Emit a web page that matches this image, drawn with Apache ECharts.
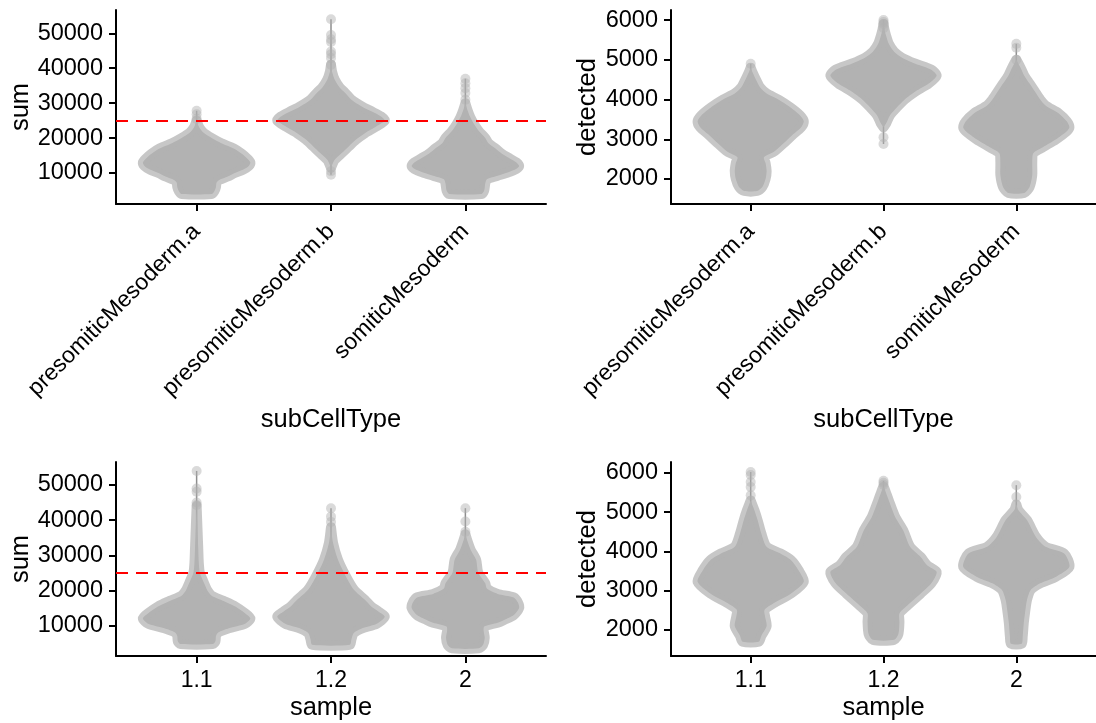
<!DOCTYPE html>
<html><head><meta charset="utf-8">
<script src="https://cdn.jsdelivr.net/npm/echarts@6/dist/echarts.min.js"></script>
<style>html,body{margin:0;padding:0;background:#fff}#c{width:1096px;height:723px}</style>
</head><body><div id="c"></div>
<script>
// ---------- categories & ticks ----------
const subCellTypes = ['presomiticMesoderm.a', 'presomiticMesoderm.b', 'somiticMesoderm'];
const samples = ['1.1', '1.2', '2'];
const sumTicks = [10000, 20000, 30000, 40000, 50000];
const detectedTicks = [2000, 3000, 4000, 5000, 6000];
const sumThreshold = 25000;

// ---------- violin profiles: [value, relative density] ----------
// sum by subCellType
const sumSub_a = [[4000,0.28],[4800,0.33],[6000,0.36],[7200,0.37],[8000,0.42],[9000,0.58],[10000,0.71],[11000,0.87],[12000,0.97],[13000,1.0],[14000,0.95],[15500,0.84],[17000,0.69],[18500,0.46],[20000,0.28],[21500,0.13],[23000,0.05],[25000,0.0]];
const sumSub_b = [[11500,0.0],[13000,0.04],[13800,0.07],[15700,0.2],[17600,0.33],[19500,0.46],[21400,0.63],[23300,0.84],[25000,1.0],[26200,0.93],[27600,0.76],[29000,0.58],[31000,0.38],[33000,0.26],[34500,0.16],[36700,0.07],[39000,0.02],[41000,0.0]];
const sumSub_c = [[4000,0.3],[5000,0.35],[7000,0.37],[8200,0.4],[9200,0.6],[10200,0.8],[11200,0.95],[12000,1.0],[13000,0.95],[14200,0.82],[15500,0.68],[17000,0.56],[18500,0.43],[20000,0.37],[22000,0.25],[24000,0.16],[26000,0.09],[28000,0.04],[30000,0.0]];
const sumSubPts_a = [25500, 26800, 27800];
const sumSubPts_b = [9500, 10500, 41000, 42900, 44000, 44800, 47500, 48300, 49500, 54000];
const sumSubPts_c = [31000, 32900, 34300, 35700, 37000];

// detected by subCellType
const detSub_a = [[1700,0.12],[1800,0.22],[2000,0.28],[2200,0.3],[2400,0.28],[2550,0.25],[2700,0.45],[2900,0.62],[3100,0.78],[3300,0.95],[3450,1.0],[3600,0.93],[3800,0.75],[4000,0.52],[4150,0.3],[4300,0.18],[4500,0.1],[4700,0.03],[4800,0.0]];
const detSub_b = [[3300,0.0],[3400,0.05],[3600,0.12],[3800,0.25],[4000,0.4],[4200,0.6],[4400,0.85],[4600,1.0],[4750,0.9],[4900,0.6],[5050,0.35],[5200,0.2],[5400,0.1],[5600,0.05],[5750,0.02],[5900,0.0]];
const detSub_c = [[1650,0.15],[1800,0.25],[2100,0.3],[2400,0.3],[2650,0.32],[2800,0.5],[3000,0.75],[3200,0.95],[3300,1.0],[3450,0.95],[3650,0.8],[3850,0.55],[4000,0.45],[4200,0.35],[4400,0.25],[4600,0.15],[4800,0.08],[5000,0.0]];
const detSubPts_a = [4900];
const detSubPts_b = [2880, 3050, 5800, 5900, 5950, 6000];
const detSubPts_c = [5000, 5300, 5400];

// sum by sample
const sumSam_11 = [[4700,0.3],[5500,0.35],[7000,0.36],[8000,0.4],[9200,0.6],[10500,0.9],[12000,1.0],[13500,0.9],[15400,0.72],[17000,0.5],[18500,0.28],[20000,0.2],[22000,0.14],[25000,0.06],[28000,0.04],[32000,0.03],[36000,0.02],[40000,0.01],[44000,0.0]];
const sumSam_12 = [[4500,0.35],[6000,0.38],[7800,0.42],[9200,0.58],[10500,0.85],[12500,1.0],[14000,0.88],[15400,0.75],[17300,0.63],[20100,0.43],[23900,0.28],[28700,0.13],[33400,0.04],[38000,0.0]];
const sumSam_2 = [[3500,0.25],[4500,0.33],[6500,0.36],[8500,0.34],[9700,0.35],[10800,0.6],[11600,0.72],[13000,0.9],[15000,1.0],[16500,0.98],[18000,0.9],[19000,0.6],[20500,0.4],[22000,0.37],[25000,0.24],[28700,0.2],[31500,0.1],[34000,0.04],[36000,0.0]];
const sumSamPts_11 = [44300, 45000, 48100, 49000, 54000];
const sumSamPts_12 = [39500, 41000, 43400];
const sumSamPts_2 = [36700, 39600, 43400];

// detected by sample
const detSam_11 = [[1700,0.15],[1850,0.2],[2100,0.3],[2350,0.27],[2510,0.26],[2680,0.43],[2930,0.76],[3230,1.0],[3525,0.9],[3780,0.76],[3950,0.56],[4120,0.3],[4460,0.2],[4800,0.13],[5050,0.07],[5300,0.0]];
const detSam_12 = [[1750,0.2],[1900,0.28],[2200,0.3],[2420,0.3],[2590,0.42],[2930,0.7],[3190,0.9],[3480,1.0],[3650,0.82],[3860,0.7],[4120,0.5],[4540,0.37],[4880,0.22],[5300,0.1],[5600,0.02],[5650,0.0]];
const detSam_2 = [[1650,0.1],[1830,0.12],[2170,0.14],[2500,0.17],[2760,0.2],[3020,0.27],[3190,0.45],[3360,0.75],[3610,1.0],[3950,0.9],[4120,0.55],[4370,0.37],[4800,0.2],[5050,0.04],[5200,0.0]];
const detSamPts_11 = [5430, 5640, 5770, 5950, 6025];
const detSamPts_12 = [5700, 5750, 5800];
const detSamPts_2 = [5390, 5690];

// ---------- rendering ----------
const FONT = '"Liberation Sans", Arial, Helvetica, sans-serif';
const FILL = '#b2b2b2';
const HW = 0.4;

function violinSeries(gi, profiles, points, threshold) {
  const custom = {
    type: 'custom', xAxisIndex: gi, yAxisIndex: gi, z: 2, silent: true,
    data: profiles.map((p, i) => [i + 1, p[0][0]]),
    encode: { x: 0, y: 1 },
    renderItem(params, api) {
      const i = params.dataIndex, prof = profiles[i], cx = i + 1;
      const vals = prof.map(p => p[0]).concat(points[i]);
      const lo = Math.min(...vals), hi = Math.max(...vals);
      const left = prof.map(p => api.coord([cx - HW * p[1], p[0]]));
      const right = prof.slice().reverse().map(p => api.coord([cx + HW * p[1], p[0]]));
      const a = api.coord([cx, lo]), b = api.coord([cx, hi]);
      return { type: 'group', children: [
        { type: 'line', shape: { x1: a[0], y1: a[1], x2: b[0], y2: b[1] }, style: { stroke: '#8e8e8e', lineWidth: 1.5 } },
        { type: 'polygon', shape: { points: left.concat(right), smooth: 0.25 },
          style: { fill: FILL, stroke: 'rgba(178,178,178,0.72)', lineWidth: 10, lineJoin: 'round' } }
      ]};
    }
  };
  const scatter = {
    type: 'scatter', xAxisIndex: gi, yAxisIndex: gi, z: 3, silent: true, symbolSize: 10,
    itemStyle: { color: 'rgba(178,178,178,0.6)' },
    data: points.flatMap((arr, i) => arr.map(v => [i + 1, v]))
  };
  if (threshold != null) {
    scatter.markLine = { silent: true, symbol: 'none', animation: false,
      data: [{ yAxis: threshold }], label: { show: false },
      lineStyle: { color: '#ff0000', type: [12, 8], width: 2 } };
  }
  return [custom, scatter];
}

function xAxis(gi, cats, rotate, name, nameGap, margin) {
  return { gridIndex: gi, type: 'value', min: 0.4, max: 3.6,
    name: name, nameLocation: 'middle', nameGap: nameGap,
    nameTextStyle: { fontSize: 25.5, color: '#000', fontFamily: FONT },
    axisLine: { show: true, onZero: false, lineStyle: { color: '#000', width: 2 } },
    axisTick: { show: true, customValues: [1, 2, 3], length: 7, lineStyle: { color: '#000', width: 2 } },
    axisLabel: { show: true, customValues: [1, 2, 3], formatter: v => cats[Math.round(v) - 1],
      rotate: rotate, margin: margin, fontSize: 23, color: '#000', fontFamily: FONT },
    splitLine: { show: false } };
}
function yAxis(gi, min, max, ticks, name, nameGap) {
  return { gridIndex: gi, type: 'value', min: min, max: max,
    name: name, nameLocation: 'middle', nameGap: nameGap,
    nameTextStyle: { fontSize: 25.5, color: '#000', fontFamily: FONT },
    axisLine: { show: true, onZero: false, lineStyle: { color: '#000', width: 2 } },
    axisTick: { show: true, customValues: ticks, length: 7, lineStyle: { color: '#000', width: 2 } },
    axisLabel: { show: true, customValues: ticks, formatter: v => String(Math.round(v)),
      margin: 13, fontSize: 23.5, color: '#000', fontFamily: FONT },
    splitLine: { show: false } };
}

const option = {
  animation: false,
  backgroundColor: '#fff',
  grid: [
    { left: 116, top: 10, width: 430, height: 194 },
    { left: 671, top: 10, width: 430, height: 194 },
    { left: 116, top: 462, width: 430, height: 194 },
    { left: 671, top: 462, width: 430, height: 194 }
  ],
  xAxis: [
    xAxis(0, subCellTypes, 45, 'subCellType', 203, 24),
    xAxis(1, subCellTypes, 45, 'subCellType', 203, 24),
    xAxis(2, samples, 0, 'sample', 39, 13),
    xAxis(3, samples, 0, 'sample', 39, 13)
  ],
  yAxis: [
    yAxis(0, 1125, 56670, sumTicks, 'sum', 82),
    yAxis(1, 1371, 6252, detectedTicks, 'detected', 70),
    yAxis(2, 1317, 56548, sumTicks, 'sum', 82),
    yAxis(3, 1338, 6280, detectedTicks, 'detected', 70)
  ],
  series: [].concat(
    violinSeries(0, [sumSub_a, sumSub_b, sumSub_c], [sumSubPts_a, sumSubPts_b, sumSubPts_c], sumThreshold),
    violinSeries(1, [detSub_a, detSub_b, detSub_c], [detSubPts_a, detSubPts_b, detSubPts_c], null),
    violinSeries(2, [sumSam_11, sumSam_12, sumSam_2], [sumSamPts_11, sumSamPts_12, sumSamPts_2], sumThreshold),
    violinSeries(3, [detSam_11, detSam_12, detSam_2], [detSamPts_11, detSamPts_12, detSamPts_2], null)
  )
};
const chart = echarts.init(document.getElementById('c'), null, { renderer: 'canvas' });
chart.setOption(option);
</script></body></html>
